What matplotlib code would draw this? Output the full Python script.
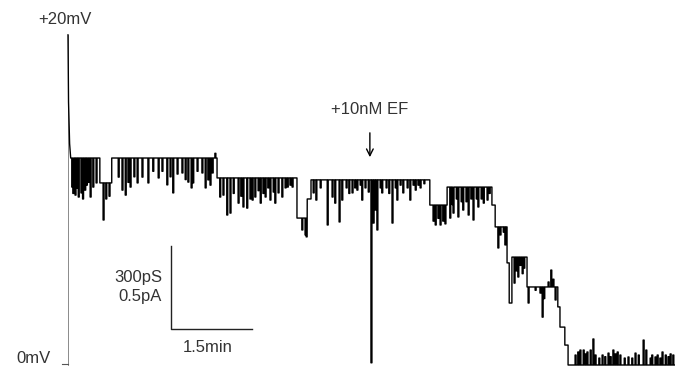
import matplotlib
matplotlib.use('Agg')
import matplotlib.pyplot as plt

plt.rcParams['font.family'] = ['Liberation Sans', 'DejaVu Sans']

# Conductance trace: time in minutes, conductance in pS
# start spike after the voltage step
spike_t = [0.0, 0.01, 0.03, 0.05]
spike_g = [1193, 950, 800, 748]

# open levels: (time the level starts, conductance)
step_t = [0.05, 0.59, 0.81, 2.76, 4.24, 4.43, 4.50, 6.70, 7.02, 7.85, 7.91,
          8.13, 8.17, 8.22, 8.50, 9.07, 9.11, 9.20, 9.26]
step_g = [748, 658, 748, 676, 531, 600, 669, 578, 643, 578, 499,
          369, 224, 390, 282, 210, 137, 72, 0]

# brief flickers: (time, conductance reached)
flick_t = [0.07, 0.09, 0.13, 0.16, 0.19, 0.24, 0.27, 0.31, 0.34, 0.37, 0.41,
           0.46, 0.52,
           0.65, 0.70, 0.76,
           0.93, 1.00, 1.06, 1.11, 1.15, 1.22, 1.28, 1.37, 1.48, 1.57, 1.67,
           1.74, 1.83, 1.89, 1.94, 2.02, 2.11, 2.17, 2.22, 2.28, 2.31, 2.39,
           2.48, 2.54, 2.59, 2.63, 2.67, 2.72,
           2.81, 2.87, 2.94, 3.00, 3.06, 3.15, 3.20, 3.24, 3.31, 3.37, 3.41,
           3.46, 3.52, 3.56, 3.61, 3.65, 3.70, 3.74, 3.80, 3.83, 3.89, 3.96,
           4.02, 4.06, 4.11, 4.15,
           4.33, 4.39, 4.41,
           4.54, 4.59, 4.67, 4.80, 4.89, 4.94, 5.02, 5.07, 5.15, 5.20, 5.26,
           5.31, 5.35, 5.41, 5.44, 5.50, 5.56, 5.61, 5.65, 5.69, 5.72, 5.78,
           5.81, 5.89, 5.94, 6.00, 6.06, 6.09, 6.15, 6.20, 6.28, 6.33, 6.39,
           6.43, 6.48, 6.52, 6.59,
           6.76, 6.80, 6.85, 6.89, 6.94, 6.98,
           7.07, 7.11, 7.13, 7.19, 7.22, 7.28, 7.31, 7.37, 7.41, 7.46, 7.50,
           7.56, 7.59, 7.65, 7.69, 7.76, 7.80,
           7.96, 8.00, 8.06, 8.09,
           8.26, 8.30, 8.33, 8.37, 8.41, 8.44,
           8.52, 8.65, 8.74, 8.78, 8.81, 8.89, 8.94, 8.98, 9.02,
           9.39, 9.44, 9.48, 9.54, 9.57, 9.61, 9.67, 9.72, 9.76, 9.83, 9.89,
           9.94, 10.00, 10.04, 10.09, 10.13, 10.17, 10.22, 10.30, 10.37, 10.44,
           10.50, 10.56, 10.65, 10.70, 10.78, 10.81, 10.87, 10.91, 10.96, 11.00,
           11.06, 11.11, 11.15, 11.20]
flick_g = [643, 620, 614, 640, 607, 622, 600, 632, 650, 660, 607,
           643, 658,
           524, 600, 610,
           679, 632, 614, 660, 643, 680, 658, 679, 658, 700, 676,
           700, 651, 680, 622, 690, 694, 670, 661, 640, 658, 700,
           694, 640, 669, 650, 694, 765,
           607, 614, 542, 549, 620, 585, 610, 571, 567, 600, 596,
           607, 630, 585, 620, 607, 640, 596, 625, 585, 622, 607,
           640, 643, 650, 643,
           488, 470, 463,
           622, 596, 640, 506, 607, 585, 517, 596, 640, 620, 622,
           640, 632, 650, 596, 640, 625, 8, 513, 560, 488, 640,
           622, 640, 620, 513, 640, 596, 650, 622, 640, 596, 650,
           632, 650, 640, 655,
           520, 506, 530, 506, 520, 510,
           531, 580, 549, 600, 535, 590, 560, 590, 542, 600, 524,
           600, 571, 600, 585, 596, 620,
           423, 470, 480, 434,
           296, 340, 318, 360, 330, 350,
           224, 270, 260, 173, 240, 300, 343, 310, 235,
           36, 47, 54, 54, 40, 47, 54, 94, 36, 25, 36,
           30, 43, 30, 54, 40, 47, 36, 25, 29, 25,
           43, 36, 90, 54, 25, 36, 29, 36, 25, 47,
           36, 30, 40, 36]
t_end = 11.24

# build the trace from the levels and the flickers
events = [(t, 0, g) for t, g in zip(step_t, step_g)] + \
         [(t, 1, g) for t, g in zip(flick_t, flick_g)]
events.sort()
tt = list(spike_t)
gg = list(spike_g)
cur = spike_g[-1]
w = 0.018
for t, kind, g in events:
    if kind == 0:
        tt += [t, t]
        gg += [cur, g]
        cur = g
    else:
        tt += [t, t, t + w, t + w]
        gg += [cur, g, g, cur]
tt.append(t_end)
gg.append(cur)

fig = plt.figure(figsize=(6.75, 3.67), dpi=100)
ax = fig.add_axes([0, 0, 1, 1])
ax.set_xlim(-1.259, 11.24)
ax.set_ylim(-7.2, 1319)
ax.axis('off')

txt = '#333333'

# voltage axis on the left
ax.plot([0, 0], [0, 1193], color='#777777', lw=0.6)
ax.plot([-0.11, 0], [4, 4], color='#555555', lw=0.8)
ax.text(-0.06, 1250, '+20mV', ha='center', va='center', fontsize=12, color=txt)
ax.text(-0.33, 22, '0mV', ha='right', va='center', fontsize=12, color=txt)

# the trace
ax.plot(tt, gg, color='black', lw=1.0)

# toxin addition
ax.text(5.59, 925, '+10nM EF', ha='center', va='center', fontsize=12, color=txt)
ax.annotate('', xy=(5.59, 741), xytext=(5.59, 849),
            arrowprops=dict(arrowstyle='->', color='black', lw=1.0,
                            mutation_scale=12))

# scale bar
ax.plot([1.907, 1.907, 3.407], [430, 130, 130], color='#222222', lw=1.0)
ax.text(1.74, 318, '300pS', ha='right', va='center', fontsize=12, color=txt)
ax.text(1.74, 249, '0.5pA', ha='right', va='center', fontsize=12, color=txt)
ax.text(2.59, 65, '1.5min', ha='center', va='center', fontsize=12, color=txt)

fig.savefig('out.png', dpi=100)
